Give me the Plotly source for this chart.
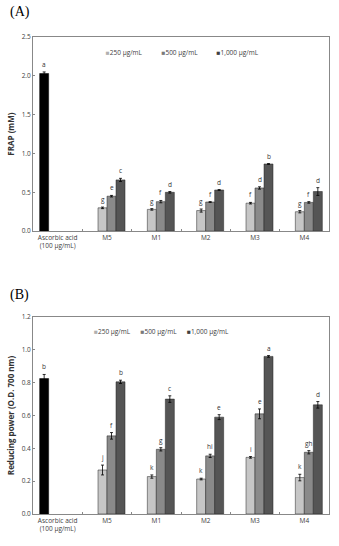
import plotly.graph_objects as go
from plotly.subplots import make_subplots

categories = ["Ascorbic acid<br>(100 µg/mL)", "M5", "M1", "M2", "M3", "M4"]
series_names = ["250 µg/mL", "500 µg/mL", "1,000 µg/mL"]

# Panel A: FRAP (mM)
frap_ascorbic = 2.03
frap_ascorbic_err = 0.02
frap_ascorbic_letter = "a"
frap_250 = [0.30, 0.28, 0.265, 0.36, 0.25]
frap_500 = [0.45, 0.38, 0.375, 0.556, 0.37]
frap_1000 = [0.66, 0.50, 0.53, 0.865, 0.51]
frap_250_err = [0.01, 0.01, 0.02, 0.01, 0.015]
frap_500_err = [0.01, 0.015, 0.005, 0.015, 0.01]
frap_1000_err = [0.02, 0.01, 0.005, 0.005, 0.05]
frap_250_let = ["g", "g", "g", "f", "g"]
frap_500_let = ["e", "f", "f", "d", "f"]
frap_1000_let = ["c", "d", "d", "b", "d"]

# Panel B: Reducing power (O.D. 700 nm)
rp_ascorbic = 0.825
rp_ascorbic_err = 0.025
rp_ascorbic_letter = "b"
rp_250 = [0.268, 0.228, 0.213, 0.345, 0.222]
rp_500 = [0.476, 0.394, 0.354, 0.61, 0.376]
rp_1000 = [0.805, 0.70, 0.59, 0.96, 0.665]
rp_250_err = [0.03, 0.01, 0.005, 0.005, 0.02]
rp_500_err = [0.02, 0.01, 0.01, 0.03, 0.01]
rp_1000_err = [0.01, 0.02, 0.015, 0.005, 0.02]
rp_250_let = ["j", "k", "k", "i", "k"]
rp_500_let = ["f", "g", "hi", "e", "gh"]
rp_1000_let = ["b", "c", "e", "a", "d"]

colors = ["#c6c6c6", "#8a8a8a", "#555555"]
swatch_colors = ["#b0b0b0", "#7a7a7a", "#404040"]
BARGAP = 0.27
w = (1 - BARGAP) / 4
offsets = [-1.5 * w, -0.5 * w, 0.5 * w, 1.5 * w]

fig = make_subplots(rows=2, cols=1)
FONT = "Open Sans"
tick_font = dict(family=FONT, size=6.5, color="#404040")

panels = [
    (1, frap_ascorbic, frap_ascorbic_err, frap_ascorbic_letter,
     [frap_250, frap_500, frap_1000], [frap_250_err, frap_500_err, frap_1000_err],
     [frap_250_let, frap_500_let, frap_1000_let], ["legend", "legend2", "legend3"]),
    (2, rp_ascorbic, rp_ascorbic_err, rp_ascorbic_letter,
     [rp_250, rp_500, rp_1000], [rp_250_err, rp_500_err, rp_1000_err],
     [rp_250_let, rp_500_let, rp_1000_let], ["legend4", "legend5", "legend6"]),
]

annotations = []
for row, asc, asc_err, asc_let, vals, errs, lets, legs in panels:
    xref = "x" if row == 1 else "x2"
    yref = "y" if row == 1 else "y2"
    fig.add_trace(go.Bar(
        x=categories, y=[asc] + [None] * 5,
        error_y=dict(type="data", array=[asc_err] + [0] * 5, color="black", thickness=0.8, width=1.5),
        marker=dict(color="black", line=dict(color="black", width=0.5)),
        showlegend=False, name="Ascorbic acid"), row=row, col=1)
    annotations.append(dict(x=0 + offsets[0], y=asc + asc_err, xref=xref, yref=yref,
                            text=asc_let, showarrow=False, yanchor="bottom", yshift=1,
                            font=dict(family=FONT, size=6.5, color="#333333")))
    for k in range(3):
        fig.add_trace(go.Bar(
            x=categories, y=[None] + vals[k],
            error_y=dict(type="data", array=[0] + errs[k], color="black", thickness=0.8, width=1.5),
            marker=dict(color=colors[k], line=dict(color="#222222", width=0.5)),
            name=series_names[k], showlegend=False), row=row, col=1)
        # legend entry: swatch drawn as a coloured square glyph inside the legend text
        fig.add_trace(go.Scatter(
            x=[None], y=[None], mode="markers",
            name=f"<span style='color:{swatch_colors[k]}'>■</span>{series_names[k]}",
            marker=dict(size=1, opacity=0, color="rgba(0,0,0,0)",
                        line=dict(width=0, color="rgba(0,0,0,0)")),
            legend=legs[k], showlegend=True, hoverinfo="skip"), row=row, col=1)
        for i in range(5):
            annotations.append(dict(x=i + 1 + offsets[k + 1], y=vals[k][i] + errs[k][i],
                                    xref=xref, yref=yref, text=lets[k][i], showarrow=False,
                                    yanchor="bottom", yshift=1,
                                    font=dict(family=FONT, size=6.5, color="#333333")))

annotations.append(dict(x=-0.084, y=1.052, xref="paper", yref="paper", text="(A)",
                        showarrow=False, xanchor="left", yanchor="middle",
                        font=dict(family="Liberation Serif", size=14, color="black")))
annotations.append(dict(x=-0.084, y=0.459, xref="paper", yref="paper", text="(B)",
                        showarrow=False, xanchor="left", yanchor="middle",
                        font=dict(family="Liberation Serif", size=14, color="black")))

axis_common = dict(showline=True, linecolor="#888888", linewidth=0.8, mirror=True,
                   showgrid=False, zeroline=False, tickfont=tick_font)

fig.update_xaxes(**axis_common, type="category", tickson="boundaries", ticks="inside",
                 ticklen=2, tickcolor="#888888")
fig.update_yaxes(**axis_common, ticks="inside", ticklen=2, tickcolor="#888888", tickformat=".1f")

fig.update_yaxes(row=1, col=1, range=[0, 2.5], dtick=0.5,
                 title=dict(text="<b>FRAP (mM)</b>", font=dict(family=FONT, size=8, color="#333333"), standoff=5))
fig.update_yaxes(row=2, col=1, range=[0, 1.2], dtick=0.2,
                 title=dict(text="<b>Reducing power (O.D. 700 nm)</b>", font=dict(family=FONT, size=8, color="#333333"), standoff=5))

legend_common = dict(orientation="h", xanchor="left", yanchor="middle",
                     font=dict(family=FONT, size=6.5, color="#404040"), itemwidth=30,
                     bgcolor="rgba(0,0,0,0)", tracegroupgap=0)

legend_x_a = [0.111, 0.299, 0.485]
legend_x_b = [0.071, 0.228, 0.385]
legend_layout = {}
for j, name in enumerate(["legend", "legend2", "legend3"]):
    legend_layout[name] = dict(legend_common, x=legend_x_a[j], y=0.967)
for j, name in enumerate(["legend4", "legend5", "legend6"]):
    legend_layout[name] = dict(legend_common, x=legend_x_b[j], y=0.382)

fig.update_layout(
    width=339, height=546,
    margin=dict(l=33, r=10, t=37, b=32, autoexpand=False),
    plot_bgcolor="white", paper_bgcolor="white",
    barmode="group", bargap=BARGAP, bargroupgap=0,
    xaxis=dict(domain=[0, 1]), xaxis2=dict(domain=[0, 1]),
    yaxis=dict(domain=[0.593, 1.0]), yaxis2=dict(domain=[0.0, 0.413]),
    annotations=annotations,
    **legend_layout,
)

fig.write_html("out.html")
